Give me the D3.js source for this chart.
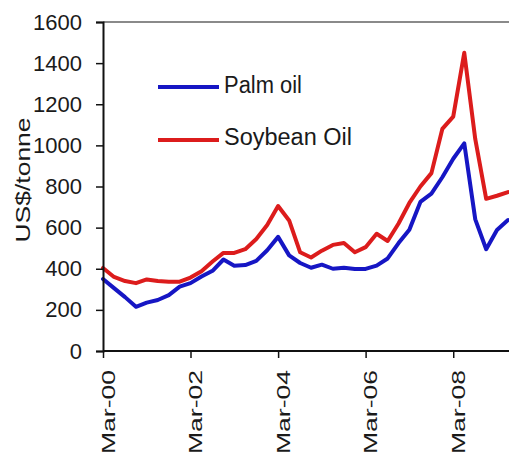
<!DOCTYPE html>
<html>
<head>
<meta charset="utf-8">
<script src="https://cdn.jsdelivr.net/npm/d3@7"></script>
<style>
  html, body { margin: 0; padding: 0; background: #fff; }
  svg { display: block; }
  text { font-family: "Liberation Sans", Arial, sans-serif; fill: #1a1a1a; }
</style>
</head>
<body>
<svg id="chart" width="509" height="457"></svg>
<script>
// Quarterly vegetable oil prices, US$/tonne
const months = [
  "2000-03","2000-06","2000-09","2000-12","2001-03","2001-06","2001-09","2001-12",
  "2002-03","2002-06","2002-09","2002-12","2003-03","2003-06","2003-09","2003-12",
  "2004-03","2004-06","2004-09","2004-12","2005-03","2005-06","2005-09","2005-12",
  "2006-03","2006-06","2006-09","2006-12","2007-03","2007-06","2007-09","2007-12",
  "2008-03","2008-06","2008-09","2008-12","2009-03","2009-06"
];
const palmOil = [
  350, 306, 262, 215, 235, 248, 272, 313,
  330, 362, 390, 445, 415, 418, 438, 490,
  555, 465, 428, 405, 420, 400, 405, 399,
  399, 415, 450, 525, 590, 725, 765, 845,
  935, 1010, 640, 495, 588, 637
];
const soybeanOil = [
  404, 360, 340, 330, 348, 340, 337, 337,
  357, 388, 435, 477, 477, 495, 545, 613,
  705, 635, 480, 455, 488, 516, 525, 480,
  505, 570, 535, 620, 720, 800, 865, 1080,
  1140, 1450, 1030, 740, 755, 773
];
const seriesNames = ["Palm oil", "Soybean Oil"];
const seriesColors = ["#1616c4", "#dc1c1c"];
const yTicks = [0, 200, 400, 600, 800, 1000, 1200, 1400, 1600];
const xTickMonths = ["2000-03", "2002-03", "2004-03", "2006-03", "2008-03"];
const xTickLabels = ["Mar-00", "Mar-02", "Mar-04", "Mar-06", "Mar-08"];
const yTitle = "US$/tonne";

const parse = d3.timeParse("%Y-%m");
const svg = d3.select("#chart");

const x = d3.scaleTime()
  .domain([parse("2000-03"), parse("2009-06")])
  .range([103, 508]);
const y = d3.scaleLinear().domain([0, 1600]).range([351, 22]);

// plot-area top border
svg.append("line")
  .attr("x1", 103).attr("x2", 509)
  .attr("y1", y(1600)).attr("y2", y(1600))
  .attr("stroke", "#8a8a8a").attr("stroke-width", 2);

// series lines
const line = d3.line()
  .x((d, i) => x(parse(months[i])))
  .y(d => y(d));
[palmOil, soybeanOil].forEach((vals, k) => {
  svg.append("path")
    .datum(vals)
    .attr("d", line)
    .attr("fill", "none")
    .attr("stroke", seriesColors[k])
    .attr("stroke-width", 4)
    .attr("stroke-linejoin", "round")
    .attr("stroke-linecap", "round");
});

// y axis
const yAxis = svg.append("g")
  .attr("transform", "translate(103,0)")
  .call(d3.axisLeft(y).tickValues(yTicks).tickSize(7).tickPadding(14).tickFormat(d3.format("d")));
yAxis.select(".domain").attr("stroke", "#111").attr("stroke-width", 2);
yAxis.selectAll(".tick line").attr("stroke", "#111").attr("stroke-width", 1.5);
yAxis.selectAll(".tick text")
  .style("font-size", "22px")
  .attr("fill", "#1a1a1a");

// x axis
const xAxis = svg.append("g")
  .attr("transform", "translate(0,351)")
  .call(d3.axisBottom(x)
    .tickValues(xTickMonths.map(parse))
    .tickSize(7)
    .tickFormat((d, i) => xTickLabels[i]));
xAxis.select(".domain").attr("d", "M103,0H509").attr("stroke", "#111").attr("stroke-width", 2);
xAxis.selectAll(".tick line").attr("stroke", "#111").attr("stroke-width", 1.5);
xAxis.selectAll(".tick text")
  .attr("transform", "rotate(-90)")
  .attr("text-anchor", "end")
  .attr("x", -19)
  .attr("y", 11)
  .attr("dy", 0)
  .attr("textLength", 84)
  .attr("lengthAdjust", "spacingAndGlyphs")
  .style("font-size", "18px")
  .attr("fill", "#1a1a1a");

// y axis title
svg.append("text")
  .attr("transform", "translate(30,180) rotate(-90)")
  .attr("text-anchor", "middle")
  .attr("textLength", 125)
  .attr("lengthAdjust", "spacingAndGlyphs")
  .style("font-size", "21px")
  .text(yTitle);

// legend
const legendRows = [
  { y: 87, base: 93, len: 78 },
  { y: 140, base: 145, len: 128 }
];
legendRows.forEach((r, k) => {
  svg.append("line")
    .attr("x1", 158).attr("x2", 219)
    .attr("y1", r.y).attr("y2", r.y)
    .attr("stroke", seriesColors[k])
    .attr("stroke-width", 4);
  svg.append("text")
    .attr("x", 224).attr("y", r.base)
    .attr("textLength", r.len)
    .attr("lengthAdjust", "spacingAndGlyphs")
    .style("font-size", "23px")
    .text(seriesNames[k]);
});
</script>
</body>
</html>
